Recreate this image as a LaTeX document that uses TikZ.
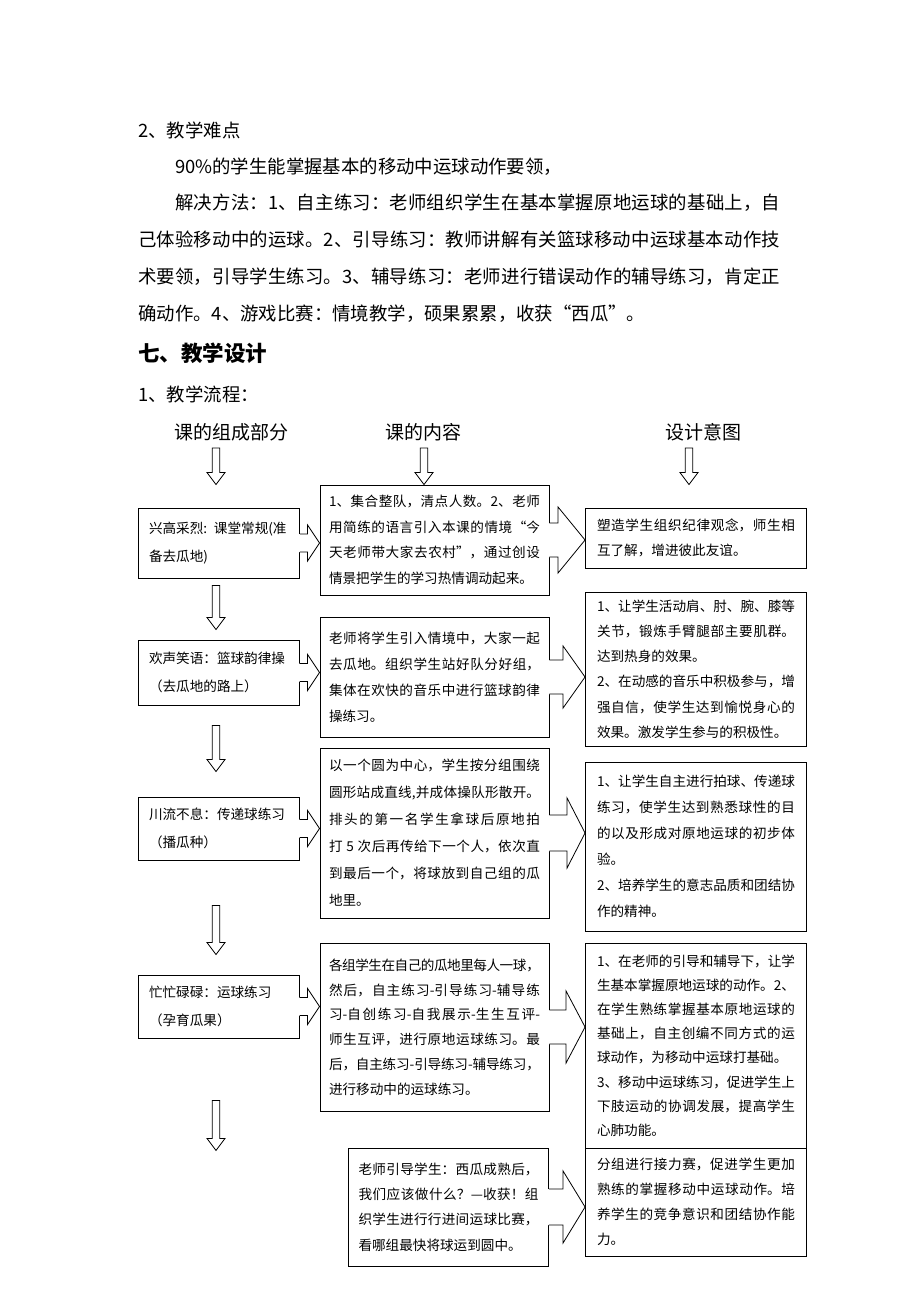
\documentclass[tikz,border=0pt]{standalone}
\usepackage{fontspec}
\setmainfont{Noto Sans CJK SC}
\usetikzlibrary{calc,positioning}
\XeTeXlinebreaklocale "zh"
\XeTeXlinebreakskip = 0pt plus 1pt minus 0.8pt
\newcommand{\bodysize}{\fontsize{18.4}{37}\selectfont}
\newcommand{\boxsize}{\fontsize{13.6}{25.5}\selectfont}
\newcommand{\linew}{0.9pt}
\newcommand{\downblock}[2]{%
\path (#1) coordinate (dbA) (#2) coordinate (dbB);
\filldraw[blockline] ($(dbA)+(-3.8,0)$) -- ($(dbB)+(-3.8,-12)$) -- ($(dbB)+(-9,-12)$) -- (dbB) -- ($(dbB)+(9,-12)$) -- ($(dbB)+(3.8,-12)$) -- ($(dbA)+(3.8,0)$) -- cycle;}
\newcommand{\rightblock}[5]{%
\path (#1.east) coordinate (rbA) (#2.west |- #1.east) coordinate (rbB);
\fill[white] ($(rbA)+(-1.6,-#5)$) -- ($(rbB)+(-#3,-#5)$) -- ($(rbB)+(-#3,-#4)$) -- (rbB) -- ($(rbB)+(-#3,#4)$) -- ($(rbB)+(-#3,#5)$) -- ($(rbA)+(-1.6,#5)$) -- cycle;
\draw[blockline] ($(rbA)+(0,-#5)$) -- ($(rbB)+(-#3,-#5)$) -- ($(rbB)+(-#3,-#4)$) -- (rbB) -- ($(rbB)+(-#3,#4)$) -- ($(rbB)+(-#3,#5)$) -- ($(rbA)+(0,#5)$);}

\begin{document}
\begin{tikzpicture}[x=1pt, y=-1pt,
  txt/.style={anchor=west, inner sep=0pt, font=\bodysize},
  head/.style={inner sep=0pt, font=\fontsize{19}{23}\selectfont},
  box/.style={draw, line width=\linew, fill=white, inner ysep=3pt, align=justify, font=\boxsize},
  lbox/.style={box, align=left, text width=140pt, inner xsep=10.5pt, font=\fontsize{13.6}{27.5}\selectfont},
  mbox/.style={box, text width=211pt, inner xsep=9pt},
  rbox/.style={box, text width=198pt, inner xsep=11.5pt},
  lsk/.style={font=\fontsize{13.6}{#1}\selectfont},
  blockline/.style={draw, fill=white, line width=0.8pt}]
\useasboundingbox (0,0) rectangle (920,1302);
%text
\node[txt] (t1) at (138, 130) {2、教学难点};
\node[txt] (t2) at (175, 167) {90\%的学生能掌握基本的移动中运球动作要领，};
\node[txt, anchor=north west, text width=642pt, align=justify] (t3) at (138, 193.5) {%
\hspace*{37pt}解决方法：1、自主练习：老师组织学生在基本掌握原地运球的基础上，自\linebreak
己体验移动中的运球。2、引导练习：教师讲解有关篮球移动中运球基本动作技\linebreak
术要领，引导学生练习。3、辅导练习：老师进行错误动作的辅导练习，肯定正\linebreak
确动作。4、游戏比赛：情境教学，硕果累累，收获“西瓜”。};
\node[txt, font=\fontsize{21.5}{26}\selectfont\bfseries] (t4) at (138, 353) {七、教学设计};
\node[txt] (t5) at (138, 394) {1、教学流程：};
\node[head] (h1) at (231, 432) {课的组成部分};
\node[head] (h2) at (423, 432) {课的内容};
\node[head] (h3) at (703, 432) {设计意图};
%left
\node[lbox] (l1) at (219, 543) [minimum height=70pt] {兴高采烈: 课堂常规(准\\备去瓜地)};
\node[lbox] (l2) at (219, 672.5) [minimum height=65pt] {欢声笑语：篮球韵律操\\（去瓜地的路上）};
\node[lbox] (l3) at (219, 828.5) [minimum height=63pt] {川流不息：传递球练习\\（播瓜种）};
\node[lbox] (l4) at (219, 1006.5) [minimum height=63pt] {忙忙碌碌：运球练习\\（孕育瓜果）};
%middle
\node[mbox, lsk=25.7] (m1) at (434.5, 540) [minimum height=110pt] {%
1、集合整队，清点人数。2、老师\linebreak
用简练的语言引入本课的情境“今\linebreak
天老师带大家去农村”，通过创设\linebreak
情景把学生的学习热情调动起来。};
\node[mbox, lsk=26] (m2) at (434.5, 677) [minimum height=120pt] {%
老师将学生引入情境中，大家一起\linebreak
去瓜地。组织学生站好队分好组，\linebreak
集体在欢快的音乐中进行篮球韵律\linebreak
操练习。};
\node[mbox, lsk=27] (m3) at (434.5, 833) [minimum height=170pt] {%
以一个圆为中心，学生按分组围绕\linebreak
圆形站成直线,并成体操队形散开。\linebreak
排头的第一名学生拿球后原地拍\linebreak
打 5 次后再传给下一个人，依次直\linebreak
到最后一个，将球放到自己组的瓜\linebreak
地里。};
\node[mbox, lsk=24.8] (m4) at (434.5, 1027) [minimum height=168pt] {%
各组学生在自己的瓜地里每人一球，\linebreak
然后，自主练习-引导练习-辅导练\linebreak
习-自创练习-自我展示-生生互评-\linebreak
师生互评，进行原地运球练习。最\linebreak
后，自主练习-引导练习-辅导练习，\linebreak
进行移动中的运球练习。};
\node[box, text width=180pt, inner xsep=10pt, lsk=25.2] (m5) at (448.5, 1207) [minimum height=118pt] {%
老师引导学生：西瓜成熟后，\linebreak
我们应该做什么？—收获！组\linebreak
织学生进行行进间运球比赛，\linebreak
看哪组最快将球运到圆中。};
%right
\node[rbox] (r1) at (696, 538) [minimum height=60pt] {%
塑造学生组织纪律观念，师生相\linebreak
互了解，增进彼此友谊。};
\node[rbox, lsk=25.2] (r2) at (696, 669) [minimum height=154pt] {%
1、让学生活动肩、肘、腕、膝等\linebreak
关节，锻炼手臂腿部主要肌群。\linebreak
达到热身的效果。\\
2、在动感的音乐中积极参与，增\linebreak
强自信，使学生达到愉悦身心的\linebreak
效果。激发学生参与的积极性。};
\node[rbox, lsk=26] (r3) at (696, 846.5) [minimum height=169pt] {%
1、让学生自主进行拍球、传递球\linebreak
练习，使学生达到熟悉球性的目\linebreak
的以及形成对原地运球的初步体\linebreak
验。\\
2、培养学生的意志品质和团结协\linebreak
作的精神。};
\node[rbox, lsk=24.2] (r4) at (696, 1045.5) [minimum height=205pt] {%
1、在老师的引导和辅导下，让学\linebreak
生基本掌握原地运球的动作。2、\linebreak
在学生熟练掌握基本原地运球的\linebreak
基础上，自主创编不同方式的运\linebreak
球动作，为移动中运球打基础。\\
3、移动中运球练习，促进学生上\linebreak
下肢运动的协调发展，提高学生\linebreak
心肺功能。};
\node[rbox, lsk=25] (r5) at (696, 1202) [minimum height=108pt] {%
分组进行接力赛，促进学生更加\linebreak
熟练的掌握移动中运球动作。培\linebreak
养学生的竞争意识和团结协作能\linebreak
力。};
%down arrows
\downblock{$(h1.south -| l1.north)+(-3,7)$}{$(m1.north -| l1.north)+(-3,0)$}
\downblock{$(h2.south)+(1,7)$}{$(h2.south |- m1.north)+(1,0)$}
\downblock{$(h3.south)+(-14,7)$}{$(h3.south |- m1.north)+(-14,0)$}
\downblock{$(l1.south)+(-3,7)$}{$(l2.north)+(-3,-10)$}
\downblock{$(l2.south)+(-3,20)$}{$(l3.north)+(-3,-25)$}
\downblock{$(l3.south)+(-3,45)$}{$(l4.north)+(-3,-20)$}
\coordinate (end) at ($(l4.south)+(-3,112)$);
\downblock{$(l4.south)+(-3,62)$}{end}
%right arrows
\rightblock{l1}{m1}{12}{18}{9}
\rightblock{l2}{m2}{12}{18}{9}
\rightblock{l3}{m3}{12}{18}{9}
\rightblock{l4}{m4}{12}{18}{9}
\rightblock{m1}{r1}{27}{33}{17}
\rightblock{m2}{r2}{22}{31}{17}
\rightblock{m3}{r3}{18}{35}{18}
\rightblock{m4}{r4}{19}{36}{17}
\rightblock{m5}{r5}{22}{36}{18}
\end{tikzpicture}
\end{document}
